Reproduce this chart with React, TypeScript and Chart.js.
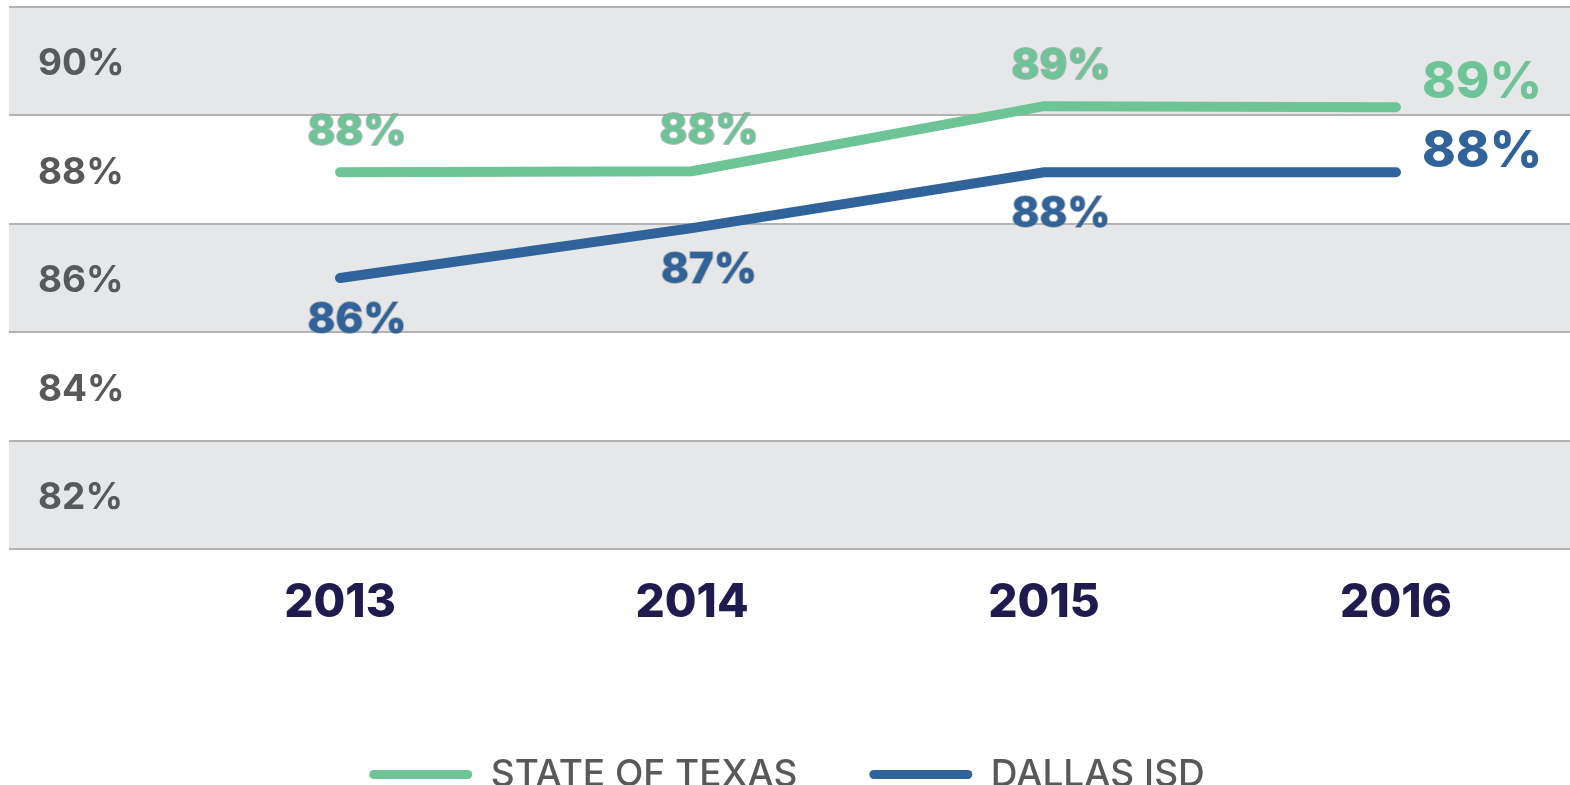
import React, { useEffect, useRef } from 'react';
import { Chart, registerables } from 'chart.js';

Chart.register(...registerables);

const years = ['2013', '2014', '2015', '2016'];
const texasRates = [87.95, 87.97, 89.17, 89.15];
const dallasRates = [86.0, 86.92, 87.95, 87.95];
const seriesNames = ['STATE OF TEXAS', 'DALLAS ISD'];
const yTickLabels = [82, 84, 86, 88, 90];

const GREEN = '#6dc496';
const BLUE = '#2f6399';
const FONT = 'Inter';
const LEGEND_SPACING = '0px';

export default function App() {
  const ref = useRef<HTMLCanvasElement>(null);

  useEffect(() => {
    if (!ref.current) return;

    const bandsPlugin = {
      id: 'bands',
      beforeDraw(chart: any) {
        const { ctx, width } = chart;
        const y = chart.scales.y;
        const left = 9;
        ctx.save();
        ctx.fillStyle = '#e6e7e9';
        for (let v = 91; v > 81; v -= 4) {
          const t = y.getPixelForValue(v);
          const b = y.getPixelForValue(v - 2);
          ctx.fillRect(left, t, width - left, b - t);
        }
        ctx.strokeStyle = '#b3b3b3';
        ctx.lineWidth = 2;
        for (let v = 91; v >= 81; v -= 2) {
          const p = Math.round(y.getPixelForValue(v));
          ctx.beginPath();
          ctx.moveTo(left, p);
          ctx.lineTo(width, p);
          ctx.stroke();
        }
        ctx.restore();
      },
    };

    const valueLabelsPlugin = {
      id: 'valueLabels',
      afterDatasetsDraw(chart: any) {
        const ctx = chart.ctx;
        chart.data.datasets.forEach((ds: any, di: number) => {
          const meta = chart.getDatasetMeta(di);
          meta.data.forEach((pt: any, i: number) => {
            const text = Math.round(ds.data[i]) + '%';
            const last = i === meta.data.length - 1;
            ctx.save();
            ctx.font = `800 ${last ? 51 : 42}px ${FONT}`;
            ctx.textBaseline = 'middle';
            let x: number;
            let y: number;
            if (last) {
              ctx.textAlign = 'left';
              x = pt.x + 26;
              y = pt.y + (di === 0 ? -25 : -21);
            } else {
              ctx.textAlign = 'center';
              x = pt.x + 17;
              y = pt.y + (di === 0 ? -40 : 42);
            }
            if (!last) {
              ctx.lineWidth = 2;
              ctx.lineJoin = 'round';
              ctx.strokeStyle = 'rgba(110,110,110,0.45)';
              ctx.strokeText(text, x, y);
            }
            ctx.fillStyle = ds.borderColor;
            ctx.fillText(text, x, y);
            ctx.restore();
          });
        });
      },
    };

    const legendSpacingPlugin = {
      id: 'legendSpacing',
      beforeLayout(chart: any) {
        const lg = chart.legend;
        if (lg && !lg._spacingPatched) {
          lg._spacingPatched = true;
          ['fit', 'draw'].forEach((name) => {
            const orig = lg[name];
            lg[name] = function (...args: any[]) {
              const c = this.ctx;
              const prev = c.letterSpacing;
              c.letterSpacing = LEGEND_SPACING;
              try {
                return orig.apply(this, args);
              } finally {
                c.letterSpacing = prev;
              }
            };
          });
        }
      },
    };

    const chart = new Chart(ref.current, {
      type: 'line',
      data: {
        labels: years,
        datasets: [
          {
            label: seriesNames[0],
            data: texasRates,
            borderColor: GREEN,
            backgroundColor: GREEN,
            borderWidth: 10,
            borderCapStyle: 'round',
            pointRadius: 0,
            tension: 0,
            clip: false as any,
          },
          {
            label: seriesNames[1],
            data: dallasRates,
            borderColor: BLUE,
            backgroundColor: BLUE,
            borderWidth: 10,
            borderCapStyle: 'round',
            pointRadius: 0,
            tension: 0,
            clip: false as any,
          },
        ],
      },
      options: {
        animation: false,
        responsive: true,
        maintainAspectRatio: false,
        layout: { padding: { left: 38, right: 34, top: 7, bottom: 0 } },
        plugins: {
          tooltip: { enabled: false },
          legend: {
            position: 'bottom',
            align: 'center',
            labels: {
              boxWidth: 103,
              boxHeight: 9,
              padding: 72,
              color: '#58595b',
              font: { family: FONT, size: 37, weight: 500 as any },
              useBorderRadius: true,
              borderRadius: 4.5,
              generateLabels: (chart: any) =>
                chart.data.datasets.map((ds: any, i: number) => ({
                  text: ds.label,
                  fillStyle: ds.borderColor,
                  strokeStyle: ds.borderColor,
                  lineWidth: 0,
                  borderRadius: 4.5,
                  fontColor: '#58595b',
                  hidden: false,
                  datasetIndex: i,
                })),
            },
          },
        },
        scales: {
          x: {
            type: 'category',
            offset: false,
            grid: { display: false, drawTicks: false, tickLength: 0 },
            border: { display: false },
            ticks: {
              color: '#1f1b4f',
              padding: 27,
              font: { family: FONT, size: 46, weight: 800 as any },
              maxRotation: 0,
            },
            afterFit: (s: any) => {
              s.height = 135;
              s.paddingLeft = 0;
              s.paddingRight = 0;
            },
          },
          y: {
            type: 'linear',
            position: 'left',
            min: 81,
            max: 91,
            grid: { display: false, drawTicks: false, tickLength: 0 },
            border: { display: false },
            ticks: {
              stepSize: 1,
              autoSkip: false,
              crossAlign: 'far',
              labelOffset: 3,
              color: '#58595b',
              font: { family: FONT, size: 37, weight: 700 as any },
              callback: (v: any) => (yTickLabels.includes(Number(v)) ? v + '%' : ''),
            },
            afterFit: (s: any) => {
              s.width = 302;
              s.paddingTop = 0;
              s.paddingBottom = 0;
            },
          },
          y2: {
            type: 'linear',
            position: 'right',
            display: true,
            grid: { display: false, drawTicks: false },
            border: { display: false },
            ticks: { display: false },
            afterFit: (s: any) => {
              s.width = 140;
              s.paddingTop = 0;
              s.paddingBottom = 0;
            },
          },
        },
      },
      plugins: [bandsPlugin, valueLabelsPlugin, legendSpacingPlugin],
    } as any);

    return () => chart.destroy();
  }, []);

  return (
    <div style={{ position: 'fixed', left: 0, top: 0, width: 1570, height: 803, background: '#fff' }}>
      <canvas ref={ref} />
    </div>
  );
}
